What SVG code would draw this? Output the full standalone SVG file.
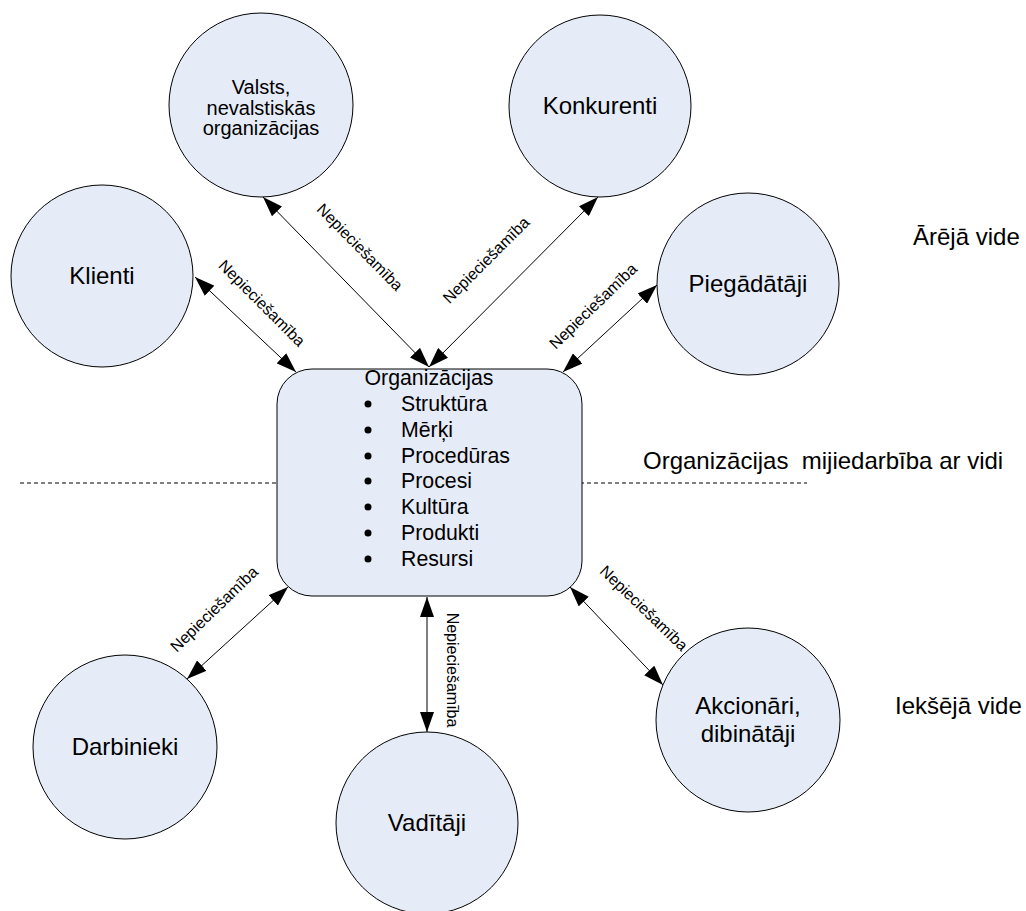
<svg xmlns="http://www.w3.org/2000/svg" width="1026" height="911" viewBox="0 0 1026 911">
<style>
.node{fill:#E6ECF7;stroke:#000;stroke-width:1}
.t{font-family:"Liberation Sans",Arial,sans-serif;fill:#000}
.c{font-size:24px;text-anchor:middle}
.b{font-size:21.3px}
.lbl{font-size:16px;text-anchor:middle}
.side{font-size:24px}
.conn{stroke:#000;stroke-width:1;fill:none;marker-start:url(#ah);marker-end:url(#ah)}
.dash{stroke:#000;stroke-width:1;stroke-dasharray:4 3;fill:none}
</style>
<defs>
<marker id="ah" viewBox="0 0 20 14" refX="20" refY="7" markerWidth="20" markerHeight="14" markerUnits="userSpaceOnUse" orient="auto-start-reverse">
<path d="M0,0 L20,7 L0,14 Z" fill="#000"/>
</marker>
</defs>
<rect width="1026" height="911" fill="#fff"/>

<g id="divider">
<line class="dash" x1="20" y1="483" x2="807" y2="483"/>
</g>

<g id="connectors">
<line class="conn" x1="195" y1="277" x2="296" y2="372"/>
<line class="conn" x1="263" y1="197" x2="429" y2="367"/>
<line class="conn" x1="598" y1="197" x2="429" y2="367"/>
<line class="conn" x1="657" y1="285" x2="563" y2="372"/>
<line class="conn" x1="288" y1="587" x2="187" y2="679"/>
<line class="conn" x1="427" y1="597" x2="427" y2="732"/>
<line class="conn" x1="570" y1="587" x2="663" y2="685"/>
<text class="t lbl" transform="translate(262,303) rotate(45)" dy="0.35em">Nepieciešamība</text>
<text class="t lbl" transform="translate(360,247) rotate(45.5)" dy="0.35em">Nepieciešamība</text>
<text class="t lbl" transform="translate(486,260) rotate(-45)" dy="0.35em">Nepieciešamība</text>
<text class="t lbl" transform="translate(593,306) rotate(-44)" dy="0.35em">Nepieciešamība</text>
<text class="t lbl" transform="translate(214,609) rotate(-44)" dy="0.35em">Nepieciešamība</text>
<text class="t lbl" transform="translate(453,670) rotate(90)" dy="0.35em">Nepieciešamība</text>
<text class="t lbl" transform="translate(644,608) rotate(44)" dy="0.35em">Nepieciešamība</text>
</g>

<g id="valsts">
<circle class="node" cx="261" cy="105" r="92"/>
<text class="t c" style="font-size:20px" x="261" y="94">Valsts,</text>
<text class="t c" style="font-size:20px" x="261" y="115">nevalstiskās</text>
<text class="t c" style="font-size:20px" x="261" y="135">organizācijas</text>
</g>

<g id="konkurenti">
<circle class="node" cx="600" cy="106" r="91"/>
<text class="t c" x="600" y="114">Konkurenti</text>
</g>

<g id="klienti">
<circle class="node" cx="102" cy="276" r="91"/>
<text class="t c" x="102" y="284">Klienti</text>
</g>

<g id="piegadataji">
<circle class="node" cx="748" cy="284" r="91"/>
<text class="t c" x="748" y="292">Piegādātāji</text>
</g>

<g id="darbinieki">
<circle class="node" cx="125" cy="747" r="92"/>
<text class="t c" x="125" y="755">Darbinieki</text>
</g>

<g id="vaditaji">
<circle class="node" cx="427" cy="823" r="91"/>
<text class="t c" x="427" y="831">Vadītāji</text>
</g>

<g id="akcionari">
<circle class="node" cx="748" cy="720" r="92"/>
<text class="t c" x="748" y="714">Akcionāri,</text>
<text class="t c" x="748" y="742">dibinātāji</text>
</g>

<g id="organizacija">
<rect class="node" x="277" y="369" width="305" height="227" rx="35" ry="35"/>
<text class="t b" x="429" y="385" text-anchor="middle">Organizācijas</text>
<g fill="#000">
<circle cx="368" cy="404" r="3.5"/>
<circle cx="368" cy="430" r="3.5"/>
<circle cx="368" cy="456" r="3.5"/>
<circle cx="368" cy="481" r="3.5"/>
<circle cx="368" cy="507" r="3.5"/>
<circle cx="368" cy="533" r="3.5"/>
<circle cx="368" cy="559" r="3.5"/>
</g>
<text class="t b" x="401" y="411">Struktūra</text>
<text class="t b" x="401" y="437">Mērķi</text>
<text class="t b" x="401" y="463">Procedūras</text>
<text class="t b" x="401" y="488">Procesi</text>
<text class="t b" x="401" y="514">Kultūra</text>
<text class="t b" x="401" y="540">Produkti</text>
<text class="t b" x="401" y="566">Resursi</text>
</g>

<g id="labels">
<text class="t side" x="913" y="245">Ārējā vide</text>
<text class="t side" x="643" y="469" xml:space="preserve">Organizācijas  mijiedarbība ar vidi</text>
<text class="t side" x="895" y="714">Iekšējā vide</text>
</g>
</svg>
